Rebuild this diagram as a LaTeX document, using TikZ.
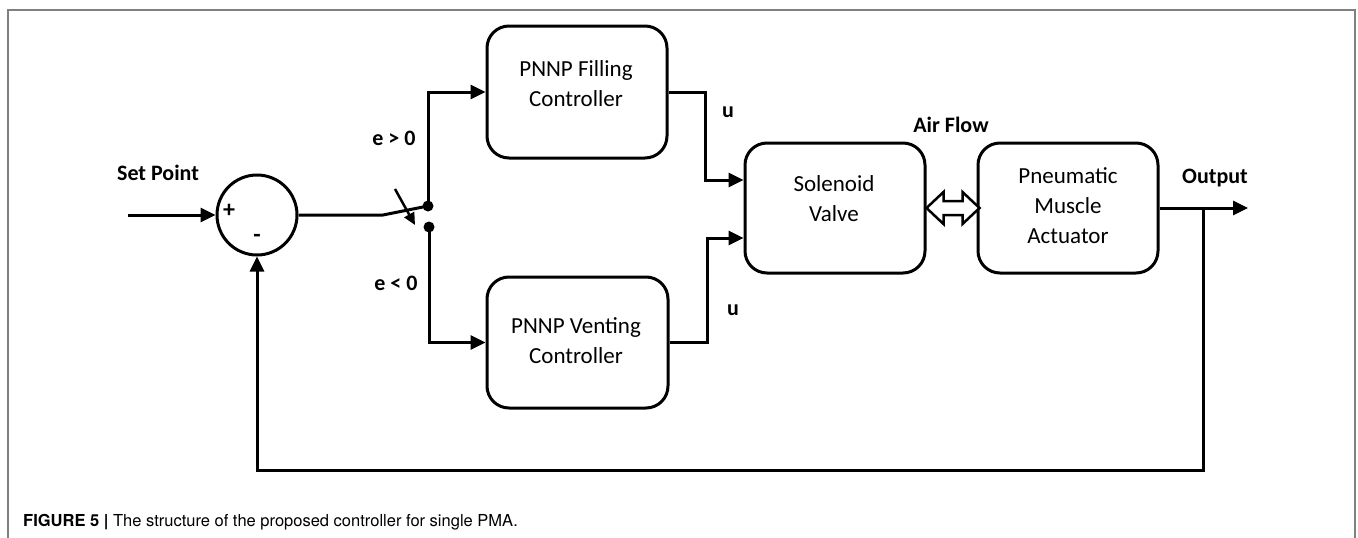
\documentclass[tikz,border=0pt]{standalone}
\usepackage{fontspec}
\setmainfont{Carlito}
\newfontfamily\capfont{TeX Gyre Heros}
\usetikzlibrary{arrows.meta}
\begin{document}
\begin{tikzpicture}[x=1pt,y=-1pt,
  blk/.style={draw,line width=3pt,rounded corners=22pt,minimum width=180pt,minimum height=130pt,inner sep=0pt},
  btxt/.style={align=center,font=\fontsize{23}{30}\selectfont,inner sep=0pt},
  lbl/.style={font=\fontsize{22}{26}\selectfont\bfseries,inner sep=0pt},
  pm/.style={font=\fontsize{24}{28}\selectfont\bfseries,inner sep=0pt},
  wire/.style={line width=3pt},
  arr/.style={wire,-{Triangle[length=15pt,width=14pt]}},
  dot/.style={circle,fill,minimum size=11pt,inner sep=0pt},
  frame/.style={draw=black!50,line width=2pt}
]
\useasboundingbox (0,0) rectangle (1358,538);
% frame
\draw[frame] (8,540) -- (8,10) -- (1355,10) -- (1355,540);

% summing junction
\node[draw,circle,line width=3pt,minimum size=80pt,inner sep=0pt] (sum) at (257,215) {};
\node[pm] (plus) at (229,211) {+};
\node[pm] (minus) at (257,238) {-};

% blocks
\node[blk,minimum width=180pt,minimum height=132pt] (fill) at (577,92) {};
\node[btxt] (fillT) at (576,84) {PNNP Filling\\Controller};
\node[blk,minimum width=181pt,minimum height=131pt] (vent) at (577.5,342.5) {};
\node[btxt] (ventT) at (576,341) {PNNP Venting\\Controller};
\node[blk] (valve) at (835,208) {};
\node[btxt] (valveT) at (834,199) {Solenoid\\Valve};
\node[blk] (pma) at (1068,208) {};
\node[btxt] (pmaT) at (1068,206) {Pneumatic\\Muscle\\Actuator};

% labels
\node[lbl] (setp) at (158,173) {Set Point};
\node[lbl] (egt) at (394,138) {e > 0};
\node[lbl] (elt) at (396,283) {e < 0};
\node[lbl] (u1) at (728,112) {u};
\node[lbl] (u2) at (733,310) {u};
\node[lbl] (air) at (951,125) {Air Flow};
\node[lbl] (outl) at (1215,178) {Output};

% input
\coordinate (sp) at (128,215);
\draw[arr] (sp) -- (sum.west);

% switch
\coordinate (sw) at (383,215);
\node[dot] (dup) at (428,206) {};
\node[dot] (ddn) at (429,227) {};
\draw[wire] (sum.east) -- (sw) -- (dup.center);
\coordinate (sa1) at (395,189);
\coordinate (sa2) at (415,225);
\draw[line width=2.5pt,-{Triangle[length=12pt,width=11pt]}] (sa1) -- (sa2);

\draw[arr] (dup.center) |- (fill.west);
\draw[arr] (ddn.center) |- (vent.west);

% controllers to valve
\draw[arr] (fill.east) -- ++(37,0) |- ([yshift=28pt]valve.west);
\draw[arr] (vent.east) -- ++(38,0) |- ([yshift=-30pt]valve.west);

% air flow double arrow
\draw[line width=2.5pt,fill=white,line join=miter] (valve.east) -- ++(17,-16) -- ++(0,9) -- ++(19,0) -- ++(0,-9) -- ++(17,16) -- ++(-17,16) -- ++(0,-9) -- ++(-19,0) -- ++(0,9) -- cycle;

% output and feedback
\coordinate (out) at (1248,208);
\coordinate (fb) at (1203,208);
\draw[arr] (pma.east) -- (out);
\draw[arr] (fb) -- ++(0,262) -| (sum.south);

% caption
\node[anchor=base west,inner sep=0pt,font=\capfont\fontsize{16.5}{20}\selectfont] (cap) at (23,526) {\textbf{FIGURE 5 |} The structure of the proposed controller for single PMA.};
\end{tikzpicture}
\end{document}
